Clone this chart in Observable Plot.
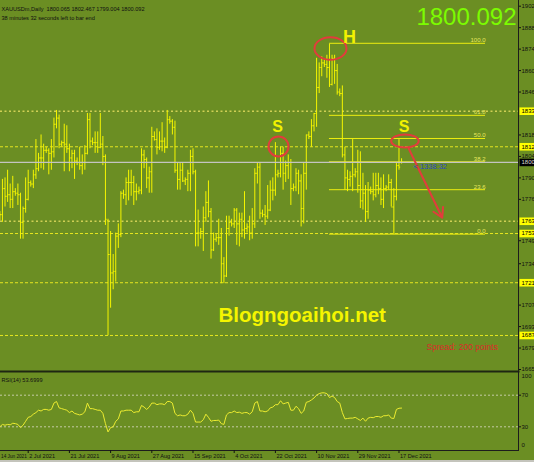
<!DOCTYPE html>
<html><head><meta charset="utf-8">
<script src="https://cdn.jsdelivr.net/npm/d3@7"></script>
<script src="https://cdn.jsdelivr.net/npm/@observablehq/plot@0.6"></script>
<style>
html,body{margin:0;padding:0;background:#6b8e23;overflow:hidden;}
#wrap{position:relative;width:534px;height:462px;overflow:hidden;background:#6b8e23;}
#main{position:absolute;left:0;top:0;}
#rsi{position:absolute;left:0;top:371px;}
#strip{position:absolute;left:0;top:460px;width:534px;height:2px;background:#c4c4bc;}
</style></head>
<body><div id="wrap"><div id="main"></div><div id="rsi"></div><div id="strip"></div></div>
<script>
// ---- Daily bars (Sun..Fri weeks), 14 Jun 2021 .. 19 Dec 2021 ----
const opens = [
 1877,1866,1858,1812,1773,
 1764,1766,1783,1778,1779,1776,
 1781,1780,1779,1761,1770,1776,
 1787,1786,1792,1796,1803,1803,
 1808,1808,1806,1807,1825,1829,
 1812,1813,1812,1809,1803,1806,
 1801,1800,1798,1800,1806,1828,
 1814,1813,1813,1810,1812,1804,
 1762,1740,1728,1729,1752,1753,
 1780,1779,1787,1787,1787,1781,
 1781,1782,1805,1802,1790,1794,
 1817,1815,1810,1814,1814,1810,
 1828,1827,1823,1795,1789,1795,
 1788,1789,1793,1804,1794,1754,
 1754,1755,1764,1774,1768,1743,
 1750,1751,1751,1734,1726,1757,
 1761,1760,1769,1760,1763,1756,
 1757,1758,1754,1760,1793,1797,
 1767,1766,1765,1769,1782,1782,
 1792,1793,1806,1793,1798,1800,
 1783,1784,1793,1788,1770,1793,
 1818,1817,1824,1832,1849,1862,
 1865,1864,1862,1851,1868,1860,
 1846,1845,1805,1790,1789,1791,
 1792,1794,1785,1775,1780,1768,
 1782,1781,1779,1785,1783,1776,
 1783,1784,1787,1771,1778,1798,
 1800.065];
const highs = [
 1877,1870,1866,1828,1795,
 1768,1789,1790,1795,1786,1791,
 1783,1786,1780,1771,1790,1795,
 1788,1795,1815,1806,1818,1812,
 1810,1809,1815,1829,1834,1831,
 1814,1825,1824,1812,1808,1808,
 1803,1810,1805,1811,1832,1832,
 1816,1820,1820,1832,1817,1805,
 1763,1755,1740,1754,1760,1781,
 1782,1790,1795,1795,1791,1786,
 1784,1809,1808,1803,1797,1823,
 1820,1822,1820,1826,1816,1834,
 1830,1828,1827,1800,1800,1800,
 1790,1795,1808,1809,1795,1769,
 1757,1771,1781,1788,1770,1754,
 1753,1763,1757,1738,1765,1765,
 1763,1770,1770,1767,1767,1781,
 1760,1765,1770,1796,1800,1800,
 1769,1772,1785,1788,1790,1813,
 1795,1810,1810,1801,1805,1802,
 1786,1796,1795,1792,1800,1818,
 1820,1828,1832,1868,1865,1869,
 1867,1870,1877,1870,1870,1864,
 1848,1850,1810,1795,1794,1815,
 1796,1808,1807,1793,1785,1787,
 1784,1793,1793,1793,1790,1792,
 1785,1792,1789,1783,1800,1815,
 1802.467];
const lows = [
 1845,1845,1810,1768,1761,
 1762,1761,1771,1774,1770,1770,
 1778,1772,1750,1750,1767,1775,
 1784,1783,1789,1794,1796,1795,
 1806,1792,1795,1803,1822,1809,
 1810,1794,1806,1794,1796,1789,
 1798,1795,1792,1795,1805,1809,
 1811,1806,1806,1809,1798,1759,
 1687,1705,1717,1722,1744,1751,
 1776,1772,1775,1778,1772,1775,
 1779,1779,1796,1783,1780,1780,
 1814,1805,1808,1807,1806,1809,
 1825,1818,1793,1782,1782,1787,
 1785,1781,1781,1792,1745,1745,
 1750,1742,1761,1764,1737,1742,
 1748,1746,1721,1721,1725,1752,
 1758,1757,1746,1745,1751,1750,
 1754,1749,1750,1757,1786,1763,
 1764,1759,1763,1768,1775,1778,
 1790,1790,1782,1787,1789,1772,
 1781,1781,1779,1758,1760,1782,
 1815,1810,1820,1823,1845,1856,
 1862,1855,1849,1850,1851,1844,
 1843,1803,1782,1781,1784,1781,
 1790,1780,1770,1769,1761,1763,
 1779,1775,1777,1779,1772,1770,
 1781,1782,1771,1753,1775,1795,
 1799.004];
const closes = [
 1866,1858,1812,1773,1764,
 1766,1783,1778,1779,1776,1781,
 1780,1779,1761,1770,1776,1787,
 1786,1792,1796,1803,1803,1808,
 1808,1806,1807,1825,1829,1812,
 1813,1812,1809,1803,1806,1801,
 1800,1798,1800,1806,1828,1814,
 1813,1813,1810,1812,1804,1763,
 1740,1728,1729,1752,1753,1780,
 1779,1787,1787,1787,1781,1781,
 1782,1805,1802,1790,1794,1817,
 1815,1810,1814,1814,1810,1828,
 1827,1823,1795,1789,1795,1788,
 1789,1793,1804,1794,1754,1754,
 1755,1764,1774,1768,1743,1750,
 1751,1751,1734,1726,1757,1761,
 1760,1769,1760,1763,1756,1757,
 1758,1754,1760,1793,1797,1767,
 1766,1765,1769,1782,1782,1792,
 1793,1806,1793,1798,1800,1783,
 1784,1793,1788,1770,1793,1818,
 1817,1824,1832,1849,1862,1865,
 1864,1862,1851,1868,1860,1846,
 1845,1805,1790,1789,1791,1792,
 1794,1785,1775,1780,1768,1782,
 1781,1779,1785,1783,1776,1783,
 1784,1787,1771,1778,1798,1797,
 1800.092];
// RSI(14)
const rsiValues = [
 45,42,33,27,26,
 30,33,32,33,32.5,34.5,
 34,33,29,32,37,42,
 43,46,48,51,50,52,
 52,51,52,60,62,54,
 53,52,51,48,50,47,
 46,45,46,49,60,53,
 53,52,51,51,47,34,
 23.5,29,30,37,40,50,
 50,51,51,51,48,49,
 49,57,55,52,55,60,
 60,58,59,59,58,62,
 62,60,47,44,45,44,
 44,46,51,47,36,36,
 36,39,46,42,37,38,
 38,38.5,34,33,45,48,
 48,50,48,48.5,47,48,
 48,46,49,60,62,50,
 50,49,50,54,55,58,
 58,63,59,60,61,51,
 51,56,53,47,50,61,
 62,64,66.5,70,72,73,
 73,72,67,69,67,62,
 60,48,40,40.5,41,41,
 42,40,38,41,37,41,
 42,41.5,43,43,42,44,
 44,45,41,40.5,52,53.5,
 53.6999];

const dateTickIndex = [0,16,32,48,64,80,96,112,128,144,160];
const dateTickLabels = ["14 Jun 2021","2 Jul 2021","21 Jul 2021","9 Aug 2021","27 Aug 2021","15 Sep 2021","4 Oct 2021","22 Oct 2021","10 Nov 2021","29 Nov 2021","17 Dec 2021"];
const priceTicks = [1902,1888,1874,1860,1846,1818,1804,1790,1776,1749,1734,1707,1693,1679,1665];
const dottedLevels = [1833.5, 1761.7];
const dashedLevels = [1810.3, 1753.7, 1721.6, 1687.2];
const levelPrices = [1833.5, 1810.3, 1761.7, 1753.7, 1721.6, 1687.2];
const levelLabels = ["1833","1812","1763","1753","1721","1687"];
const fibLabels = ["100.0","61.8","50.0","38.2","23.6","0.0"];
const fibPrices = [1877.8, 1830.8, 1815.7, 1800.5, 1782.3, 1753.3];
const rsiLevels = [70, 30];

const bars = opens.map((o, i) => ({i, open: o, high: highs[i], low: lows[i], close: closes[i], rsi: rsiValues[i]}));
const last = bars[bars.length - 1];
const levels = levelPrices.map((p, k) => ({price: p, label: levelLabels[k]}));
const fib = fibPrices.map((p, k) => ({price: p, label: fibLabels[k]}));
const dateTicks = dateTickIndex.map((i, k) => ({i, label: dateTickLabels[k]}));
const firstDateTick = dateTicks.slice(0, 1);
const otherDateTicks = dateTicks.slice(1);

const FONT = "Liberation Sans, Arial, sans-serif";
const X_DOMAIN = [5.2427, 206.408];
const X_MIN_LABEL = 5.45;
const FIB_START = 133, FIB_END = 193.6;
const YEL = "#f5f500";
const RED = "#e23c3c";

function ellipse(rx, ry) {
  const k = 0.5523;
  return {draw(c) {
    c.moveTo(rx, 0);
    c.bezierCurveTo(rx, ry * k, rx * k, ry, 0, ry);
    c.bezierCurveTo(-rx * k, ry, -rx, ry * k, -rx, 0);
    c.bezierCurveTo(-rx, -ry * k, -rx * k, -ry, 0, -ry);
    c.bezierCurveTo(rx * k, -ry, rx, -ry * k, rx, 0);
    c.closePath();
  }};
}
const box = {draw(c) { c.rect(1, -3.8, 18, 7.6); }};

const main = Plot.plot({
  width: 534, height: 371,
  marginLeft: 0, marginRight: 16, marginTop: 0, marginBottom: 0,
  style: {background: "transparent", fontFamily: FONT, overflow: "visible"},
  x: {domain: X_DOMAIN, axis: null},
  y: {domain: [1665, 1902], range: [369, 5.7], axis: null},
  marks: [
    Plot.ruleY(dottedLevels, {stroke: "#cfcf55", strokeWidth: 1.4, strokeDasharray: "2,2.5"}),
    Plot.ruleY(dashedLevels, {stroke: "#e6e620", strokeWidth: 1, strokeDasharray: "3,2"}),
    Plot.ruleY(fib, {y: "price", x1: FIB_START, x2: FIB_END, stroke: "#eded10", strokeWidth: 1}),
    Plot.text(fib, {y: "price", x: FIB_END, text: "label", textAnchor: "end", dy: -3, fontSize: 6, fill: "#e8e860"}),
    Plot.ruleX(bars, {x: "i", y1: "low", y2: "high", stroke: YEL, strokeWidth: 1, clip: true}),
    Plot.link(bars, {x1: d => d.i - 0.45, x2: "i", y1: "open", y2: "open", stroke: YEL, strokeWidth: 1, clip: true}),
    Plot.link(bars, {x1: "i", x2: d => d.i + 0.45, y1: "close", y2: "close", stroke: YEL, strokeWidth: 1, clip: true}),
    Plot.ruleY([last.close], {stroke: "#c4c4c0", strokeWidth: 1.3}),
    // annotations
    Plot.dot([{x: 113.2, y: 1810.5}], {x: "x", y: "y", symbol: ellipse(10, 10), stroke: RED, strokeWidth: 2, fill: "none"}),
    Plot.dot([{x: 133.4, y: 1874.4}], {x: "x", y: "y", symbol: ellipse(16, 11.3), stroke: RED, strokeWidth: 2, fill: "none"}),
    Plot.dot([{x: 162.3, y: 1814.1}], {x: "x", y: "y", symbol: ellipse(13.8, 6.5), stroke: RED, strokeWidth: 2, fill: "none"}),
    Plot.arrow([{x1: 163.8, y1: 1809.0, x2: 176.8, y2: 1764.0}], {x1: "x1", y1: "y1", x2: "x2", y2: "y2", stroke: RED, strokeWidth: 2, headLength: 8}),
    Plot.text([{x: 112.8, y: 1823.2, t: "S"}, {x: 162.0, y: 1823.2, t: "S"}], {x: "x", y: "y", text: "t", fontSize: 16, fontWeight: "bold", fill: "#f2f200"}),
    Plot.text([{x: 140.8, y: 1881.9, t: "H"}], {x: "x", y: "y", text: "t", fontSize: 18, fontWeight: "bold", fill: "#f2f200"}),
    Plot.text([{x: 89.9, y: 1700.2, t: "Blogngoaihoi.net"}], {x: "x", y: "y", text: "t", textAnchor: "start", fontSize: 20.5, fontWeight: "bold", fill: "#f5f500"}),
    Plot.text([{x: 170.7, y: 1679.7, t: "Spread: 200 points"}], {x: "x", y: "y", text: "t", textAnchor: "start", fontSize: 8.5, fill: "#dc2a2a"}),
    Plot.text([{x: 165.6, y: 1797.4, t: "< 1338:32"}], {x: "x", y: "y", text: "t", textAnchor: "start", fontSize: 7.5, fill: "#2c48c8"}),
    // right price axis
    Plot.frame({anchor: "right", stroke: "#1c1c1c", strokeWidth: 1}),
    Plot.frame({anchor: "bottom", stroke: "#1e2612", strokeWidth: 2}),
    Plot.axisY({anchor: "right", ticks: priceTicks, tickFormat: d => String(d), tickSize: 2, tickPadding: 1, fontSize: 6, color: "#111", label: null}),
    Plot.dot(levels, {y: "price", frameAnchor: "right", symbol: box, fill: "#ffff00", stroke: "none"}),
    Plot.text(levels, {y: "price", text: "label", frameAnchor: "right", dx: 3, textAnchor: "start", fontSize: 6, fill: "#000"}),
    Plot.dot([last], {y: "close", frameAnchor: "right", symbol: box, fill: "#000", stroke: "none"}),
    Plot.text([last], {y: "close", text: d => String(Math.floor(d.close)), frameAnchor: "right", dx: 3, textAnchor: "start", fontSize: 6, fill: "#d8d8d8"}),
    // header texts
    Plot.text(["XAUUSDm,Daily  " + [last.open, last.high, last.low, last.close].map(v => v.toFixed(3)).join(" ")],
      {text: d => d, frameAnchor: "top-left", dx: 1, dy: 6.7, textAnchor: "start", fontSize: 5.6, fill: "#111"}),
    Plot.text(["38 minutes 32 seconds left to bar end"],
      {text: d => d, frameAnchor: "top-left", dx: 1, dy: 15.7, textAnchor: "start", fontSize: 5.6, fill: "#111"}),
    Plot.text([last.close.toFixed(3)],
      {text: d => d, frameAnchor: "top-right", dx: -2, dy: 7, lineAnchor: "top", textAnchor: "end", fontSize: 24, fill: "#7cfc00"})
  ]
});
document.getElementById("main").appendChild(main);

const rsiPlot = Plot.plot({
  width: 534, height: 91,
  marginLeft: 0, marginRight: 16, marginTop: 0, marginBottom: 12,
  style: {background: "transparent", fontFamily: FONT, overflow: "visible"},
  x: {domain: X_DOMAIN, axis: null},
  y: {domain: [0, 100], axis: null},
  marks: [
    Plot.ruleY(rsiLevels, {stroke: "#c4cba4", strokeWidth: 1, strokeDasharray: "2,2"}),
    Plot.line(bars, {x: "i", y: "rsi", stroke: "#ecec30", strokeWidth: 1, clip: true}),
    Plot.frame({anchor: "right", stroke: "#1c1c1c", strokeWidth: 1}),
    Plot.frame({anchor: "bottom", stroke: "#1c1c1c", strokeWidth: 1}),
    Plot.axisY({anchor: "right", ticks: rsiLevels, tickFormat: d => String(d), tickSize: 2, tickPadding: 1, fontSize: 6, color: "#111", label: null}),
    Plot.text([100], {y: d => d, text: d => String(d), frameAnchor: "right", dx: 3, dy: 5, textAnchor: "start", fontSize: 6, fill: "#111"}),
    Plot.text([0], {y: d => d, text: d => String(d), frameAnchor: "right", dx: 3, dy: -5, textAnchor: "start", fontSize: 6, fill: "#111"}),
    Plot.ruleX(dateTicks, {x: "i", y1: 0, y2: -3.8, stroke: "#111", strokeWidth: 1}),
    Plot.text(firstDateTick, {x: d => Math.max(d.i, X_MIN_LABEL), y: -3.8, text: "label", lineAnchor: "top", textAnchor: "start", dy: 1.3, fontSize: 4.7, fill: "#111"}),
    Plot.text(otherDateTicks, {x: "i", y: -3.8, text: "label", lineAnchor: "top", textAnchor: "start", dx: 1, dy: 1, fontSize: 5.6, fill: "#111"}),
    Plot.text(["RSI(14) " + last.rsi.toFixed(4)], {text: d => d, frameAnchor: "top-left", dx: 1, dy: 6.7, textAnchor: "start", fontSize: 5.6, fill: "#111"})
  ]
});
document.getElementById("rsi").appendChild(rsiPlot);
</script>
</body></html>
